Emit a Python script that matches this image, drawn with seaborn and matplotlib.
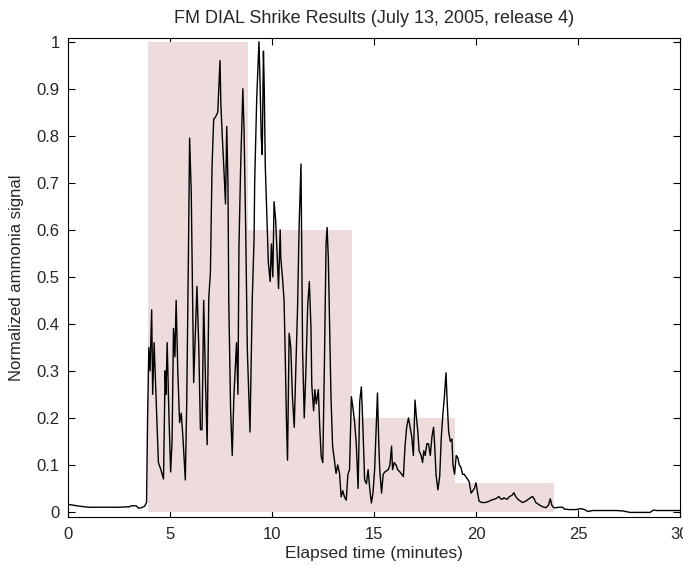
import matplotlib
matplotlib.use("Agg")
import matplotlib.pyplot as plt
import seaborn as sns
import numpy as np
import pandas as pd

# ---- data ----
bar_start = [3.94, 8.82, 13.94, 18.98]
bar_end = [8.82, 13.94, 18.98, 23.80]
bar_height = [1.0, 0.6, 0.2, 0.062]

time_min = [
    0.0, 0.3, 0.6, 1.0, 1.5, 2.0, 2.5, 3.0, 3.1, 3.35, 3.45, 3.6, 3.75, 3.85,
    3.9, 3.96, 4.02, 4.10, 4.15, 4.22, 4.27, 4.35, 4.43, 4.55, 4.68, 4.76, 4.80,
    4.86, 4.95, 5.03, 5.10, 5.17, 5.24, 5.30, 5.38, 5.47, 5.55, 5.63, 5.75, 5.82,
    5.90, 5.96, 6.04, 6.08, 6.13, 6.16, 6.32, 6.41, 6.49, 6.57, 6.65, 6.74, 6.82,
    6.90, 6.98, 7.06, 7.14, 7.23, 7.34, 7.45, 7.49, 7.56, 7.64, 7.72, 7.78, 7.84,
    7.88, 7.97, 8.05, 8.13, 8.26, 8.33, 8.38, 8.46, 8.57, 8.63, 8.71, 8.79, 8.92,
    9.03, 9.12, 9.15, 9.25, 9.36, 9.41, 9.47, 9.52, 9.58, 9.62, 9.67, 9.77, 9.82,
    9.91, 9.97, 10.04, 10.10, 10.18, 10.27, 10.32, 10.40, 10.43, 10.51, 10.59,
    10.64, 10.71, 10.76, 10.84, 10.92, 11.00, 11.09, 11.17, 11.25, 11.33, 11.42,
    11.50, 11.58, 11.66, 11.75, 11.83, 11.91, 11.95, 12.04, 12.10, 12.17, 12.27,
    12.34, 12.41, 12.49, 12.57, 12.65, 12.70, 12.76, 12.81, 12.89, 12.97, 13.06,
    13.14, 13.22, 13.31, 13.39, 13.47, 13.55, 13.64, 13.72, 13.80, 13.89, 13.97,
    14.05, 14.13, 14.22, 14.30, 14.38, 14.46, 14.54, 14.63, 14.71, 14.79, 14.87,
    14.95, 15.03, 15.12, 15.17, 15.23, 15.28, 15.37, 15.45, 15.53, 15.70, 15.78,
    15.86, 15.91, 15.99, 16.08, 16.16, 16.27, 16.36, 16.44, 16.52, 16.60, 16.69,
    16.77, 16.85, 16.93, 17.01, 17.06, 17.15, 17.21, 17.31, 17.38, 17.44, 17.51,
    17.59, 17.67, 17.76, 17.84, 17.92, 17.97, 18.04, 18.13, 18.22, 18.30, 18.38,
    18.45, 18.53, 18.58, 18.66, 18.74, 18.82, 18.87, 18.95, 19.03, 19.11, 19.18,
    19.26, 19.34, 19.42, 19.50, 19.58, 19.66, 19.76, 19.84, 19.92, 20.00, 20.08,
    20.15, 20.28, 20.44, 20.61, 20.74, 20.96, 21.04, 21.12, 21.20, 21.29, 21.37,
    21.45, 21.53, 21.62, 21.70, 21.78, 21.86, 21.94, 22.03, 22.11, 22.28, 22.44,
    22.60, 22.77, 22.85, 22.93, 23.10, 23.26, 23.43, 23.56, 23.64, 23.72, 23.81,
    23.92, 24.09, 24.25, 24.33, 24.58, 24.91, 25.15, 25.32, 25.48, 25.73, 26.23,
    26.56, 26.89, 27.22, 27.54, 28.20, 28.53, 28.70, 28.86, 29.52, 30.0,
]
signal = [
    0.016, 0.014, 0.012, 0.010, 0.010, 0.010, 0.010, 0.011, 0.013, 0.013, 0.008, 0.009, 0.012, 0.020,
    0.20, 0.35, 0.30, 0.43, 0.25, 0.36, 0.30, 0.20, 0.105, 0.09, 0.07, 0.30, 0.25,
    0.36, 0.20, 0.085, 0.15, 0.39, 0.33, 0.45, 0.30, 0.19, 0.21, 0.16, 0.068, 0.235,
    0.54, 0.795, 0.68, 0.54, 0.35, 0.275, 0.48, 0.35, 0.175, 0.175, 0.45, 0.275, 0.143,
    0.455, 0.51, 0.735, 0.835, 0.84, 0.85, 0.96, 0.87, 0.80, 0.73, 0.655, 0.82, 0.70,
    0.45, 0.217, 0.12, 0.245, 0.36, 0.25, 0.565, 0.73, 0.90, 0.81, 0.60, 0.345, 0.17,
    0.45, 0.58, 0.70, 0.88, 1.0, 0.92, 0.80, 0.76, 0.98, 0.90, 0.735, 0.60, 0.53,
    0.49, 0.57, 0.50, 0.66, 0.62, 0.53, 0.475, 0.60, 0.54, 0.50, 0.45,
    0.35, 0.19, 0.11, 0.38, 0.35, 0.245, 0.18, 0.31, 0.43, 0.61, 0.74,
    0.34, 0.20, 0.30, 0.44, 0.49, 0.39, 0.27, 0.215, 0.26, 0.23, 0.26,
    0.18, 0.118, 0.105, 0.32, 0.57, 0.605, 0.54, 0.425, 0.245, 0.14, 0.11,
    0.082, 0.10, 0.082, 0.032, 0.045, 0.032, 0.025, 0.08, 0.09, 0.245, 0.22,
    0.19, 0.145, 0.05, 0.235, 0.266, 0.175, 0.068, 0.06, 0.09, 0.05, 0.019,
    0.04, 0.09, 0.196, 0.253, 0.15, 0.09, 0.04, 0.08, 0.085, 0.09, 0.10,
    0.14, 0.09, 0.105, 0.10, 0.09, 0.085, 0.08, 0.075, 0.14, 0.18, 0.20,
    0.18, 0.16, 0.12, 0.238, 0.21, 0.17, 0.13, 0.12, 0.105, 0.13, 0.12,
    0.145, 0.145, 0.12, 0.16, 0.18, 0.145, 0.08, 0.047, 0.075, 0.16, 0.21,
    0.245, 0.296, 0.24, 0.17, 0.15, 0.155, 0.10, 0.08, 0.12, 0.115, 0.10,
    0.095, 0.08, 0.08, 0.075, 0.07, 0.065, 0.04, 0.045, 0.05, 0.062, 0.04,
    0.023, 0.02, 0.02, 0.022, 0.025, 0.028, 0.03, 0.033, 0.028, 0.027, 0.03,
    0.028, 0.027, 0.032, 0.034, 0.036, 0.041, 0.033, 0.028, 0.025, 0.02, 0.023,
    0.028, 0.033, 0.028, 0.02, 0.015, 0.011, 0.009, 0.015, 0.028, 0.014, 0.009,
    0.009, 0.010, 0.010, 0.006, 0.005, 0.005, 0.007, 0.005, 0.001, 0.003, 0.003,
    0.003, 0.003, 0.002, -0.001, -0.001, -0.001, 0.004, 0.003, 0.003, 0.003,
]

x_ticks = [0, 5, 10, 15, 20, 25, 30]
y_ticks = [0, 0.1, 0.2, 0.3, 0.4, 0.5, 0.6, 0.7, 0.8, 0.9, 1]
y_tick_labels = ["0", "0.1", "0.2", "0.3", "0.4", "0.5", "0.6", "0.7", "0.8", "0.9", "1"]

title = "FM DIAL Shrike Results (July 13, 2005, release 4)"
xlabel = "Elapsed time (minutes)"
ylabel = "Normalized ammonia signal"

# ---- plot ----
sns.set_theme(style="white")
plt.rcParams['font.family'] = ['Liberation Sans', 'DejaVu Sans']
plt.rcParams['font.size'] = 11

fig = plt.figure(figsize=(6.83, 5.67), dpi=100)
ax = fig.add_axes([0.0996, 0.088, 0.896, 0.845])

widths = [e - s for s, e in zip(bar_start, bar_end)]
ax.bar(bar_start, bar_height, width=widths, align='edge', color='#EEDCDC',
       linewidth=0, zorder=1)

df = pd.DataFrame({"t": time_min, "v": signal})
sns.lineplot(data=df, x="t", y="v", color="black", linewidth=1.0,
             estimator=None, sort=False, ax=ax, zorder=2)

ax.set_xlim(0, 30)
ax.set_ylim(-0.011, 1.008)
ax.set_xticks(x_ticks)
ax.set_xticklabels([str(x) for x in x_ticks], fontsize=12)
ax.set_yticks(y_ticks)
ax.set_yticklabels(y_tick_labels, fontsize=12)
ax.tick_params(axis='x', direction='in', length=5, width=0.8, color='black',
               top=True, bottom=True, pad=7)
ax.tick_params(axis='y', direction='in', length=5, width=0.8, color='black',
               left=True, right=True, pad=6)
for sp in ax.spines.values():
    sp.set_visible(True)
    sp.set_color('black')
    sp.set_linewidth(0.8)

ax.set_title(title, fontsize=13, pad=11)
ax.set_xlabel(xlabel, fontsize=12.5, labelpad=3)
ax.set_ylabel(ylabel, fontsize=12, labelpad=9)

fig.savefig("out.png", dpi=100, facecolor='white')
